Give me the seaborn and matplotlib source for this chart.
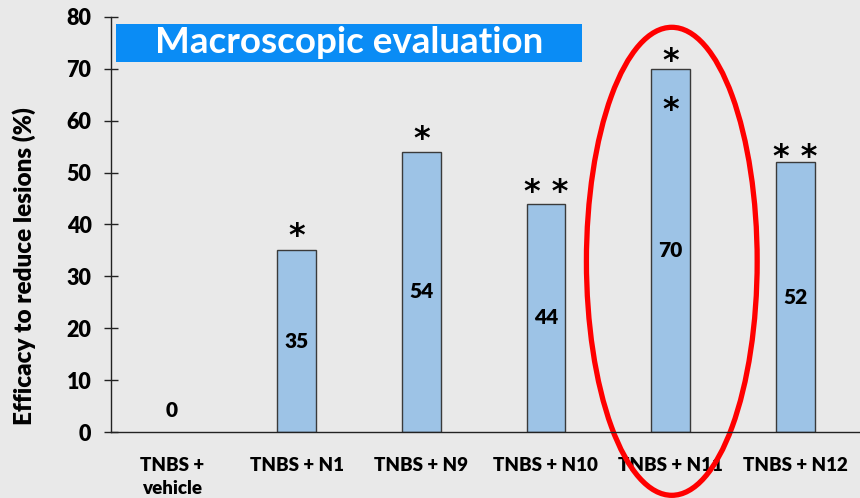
import matplotlib
matplotlib.use("Agg")
import matplotlib.pyplot as plt
import seaborn as sns
import pandas as pd
from matplotlib.patches import Ellipse, Rectangle

categories = ["TNBS +\nvehicle", "TNBS + N1", "TNBS + N9", "TNBS + N10", "TNBS + N11", "TNBS + N12"]
values = [0, 35, 54, 44, 70, 52]
stars = ["", "*", "*", "* *", "*", "* *"]
yticks = [0, 10, 20, 30, 40, 50, 60, 70, 80]

sns.set_theme(style="white")
plt.rcParams['font.family'] = ['Lato', 'DejaVu Sans']
plt.rcParams['font.weight'] = 'bold'

bg = "#E9E9E9"
fig = plt.figure(figsize=(8.6, 4.98), dpi=100, facecolor=bg)
ax = fig.add_axes([0.129, 0.1325, 0.871, 0.8335])
ax.set_facecolor(bg)

df = pd.DataFrame({"cat": categories, "val": values})
sns.barplot(data=df, x="cat", y="val", ax=ax, color="#9DC3E6", width=0.31,
            edgecolor="#3A3A3A", linewidth=1.0, saturation=1)
for p, v in zip(ax.patches, values):
    if v == 0:
        p.set_linewidth(0)

ax.set_ylim(0, 80)
ax.set_xlim(-0.49, 5.52)
ax.set_yticks(yticks)
ax.set_yticklabels([str(t) for t in yticks], fontsize=15.5, fontweight='heavy', color='black')
ax.set_xticks(range(len(categories)))
ax.set_xticklabels(categories, fontsize=13.5, fontweight='heavy', color='black', va='top', linespacing=1.4)
ax.tick_params(axis='y', direction='inout', length=10, width=1, color='#222222', left=True, pad=9)
ax.tick_params(axis='x', length=0, pad=18)
ax.set_xlabel("")
ax.set_ylabel("Efficacy to reduce lesions (%)", fontsize=17.5, fontweight='heavy', color='black')
ax.yaxis.set_label_coords(-0.100, 0.40)

for s in ['top', 'right']:
    ax.spines[s].set_visible(False)
ax.spines['left'].set_color('#222222')
ax.spines['bottom'].set_color('#222222')
ax.spines['left'].set_linewidth(1)
ax.spines['bottom'].set_linewidth(1)

# value labels inside bars
for i, v in enumerate(values):
    ypos = v / 2 if v > 0 else 4.2
    ax.text(i, ypos, str(v), ha='center', va='center', fontsize=15, fontweight='heavy', color='black')

# significance stars
star_y = [None, 37.7, 56.4, 46.2, 71.4, 53.0]
for i, s in enumerate(stars):
    if s:
        ax.text(i, star_y[i], s, ha='center', va='center', fontsize=23, fontweight='bold',
                family=['DejaVu Sans'], color='black')
ax.text(4, 62.0, "*", ha='center', va='center', fontsize=23, fontweight='bold',
        family=['DejaVu Sans'], color='black')

# title box
ax.add_patch(Rectangle((-0.449, 71.3), 3.74, 7.3, facecolor='#0A8CF5', edgecolor='none', clip_on=False))
ax.text(1.42, 75.0, "Macroscopic evaluation", ha='center', va='center', fontsize=26.5,
        fontweight='bold', color='white')

# red ellipse highlight
ell = Ellipse((4.01, 32.9), 1.37, 90.2, fill=False, edgecolor='#FF0000', linewidth=3.8, clip_on=False)
ax.add_patch(ell)

fig.savefig("out.png", dpi=100, facecolor=bg)
